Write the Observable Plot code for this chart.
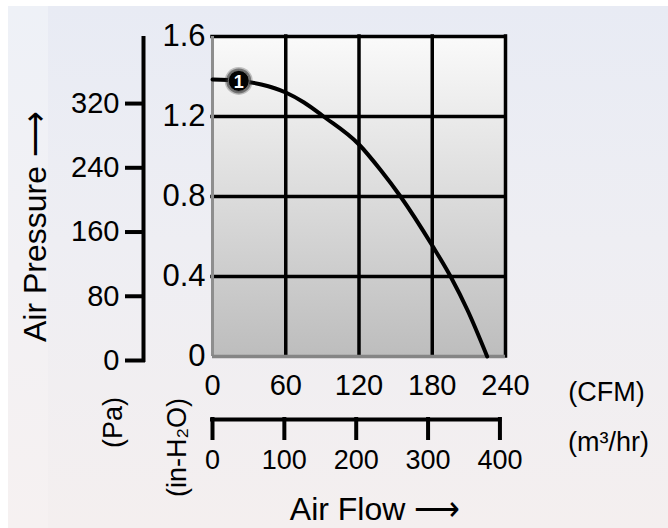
<!DOCTYPE html>
<html>
<head>
<meta charset="utf-8">
<script src="https://cdn.jsdelivr.net/npm/d3@7"></script>
<script src="https://cdn.jsdelivr.net/npm/@observablehq/plot@0.6"></script>
<style>
  html, body { margin: 0; padding: 0; background: #ffffff; }
  #wrap { position: relative; width: 668px; height: 528px; overflow: hidden; }
  #bg { position: absolute; left: 8px; top: 6px; right: 0; bottom: 0;
        background: linear-gradient(180deg, #e8ebf4 0%, #eeeef3 45%, #f4efef 100%); }
  #strip { position: absolute; left: 8px; top: 6px; width: 40px; bottom: 0;
        background: linear-gradient(180deg, #eef1f7 0%, #f2f1f4 50%, #f6f1f1 100%); }
  #chart { position: absolute; left: 0; top: 0; }
</style>
</head>
<body>
<div id="wrap"><div id="bg"></div><div id="strip"></div><div id="chart"></div></div>
<script>
// ---- data ----
const flowCFM       = [0, 22, 40, 60, 75, 91, 120, 138, 154, 180, 195, 209, 225];
const pressureInH2O = [1.385, 1.378, 1.36, 1.32, 1.27, 1.20, 1.06, 0.93, 0.80, 0.555, 0.40, 0.23, 0];
const cfmTicks      = [0, 60, 120, 180, 240];
const m3hTicks      = [0, 100, 200, 300, 400];
const inH2OTicks    = [0, 0.4, 0.8, 1.2, 1.6];
const paTicks       = [0, 80, 160, 240, 320];
const markerLabels  = ["1"];
const markerFlow    = [21.5];
const markerPress   = [1.378];

// unit conversions
const M3H_PER_CFM = 1.699;
const PA_PER_INH2O = 249.09;

const curve = flowCFM.map((f, i) => ({flow: f, pressure: pressureInH2O[i]}));
const markers = markerLabels.map((l, i) => ({label: l, flow: markerFlow[i], pressure: markerPress[i]}));

// ---- layout (pixels) ----
const W = 668, H = 528;
const mL = 212, mR = 163, mT = 36, mB = 172;
const frameW = W - mL - mR, frameH = H - mT - mB;
const paAxisOffset = -69;      // Pa axis line left of the frame
const flowAxisOffset = 63;     // m3/hr axis line below the frame
const FONT = "'Liberation Sans', Arial, Helvetica, sans-serif";
const C = {textAnchor: "middle", lineAnchor: "middle", fill: "#000"};

const plot = Plot.plot({
  width: W, height: H,
  marginLeft: mL, marginRight: mR, marginTop: mT, marginBottom: mB,
  x: {domain: [0, 240], axis: null},
  y: {domain: [0, 1.6], axis: null},
  style: {background: "transparent", fontFamily: FONT, color: "#111", overflow: "visible"},
  marks: [
    Plot.frame({fill: "url(#plotbg)", stroke: "none"}),
    // grid
    Plot.ruleX(cfmTicks.filter(d => d > 0), {stroke: "#000", strokeWidth: 3.5, strokeLinecap: "square"}),
    Plot.ruleY(inH2OTicks.filter(d => d > 0), {stroke: "#000", strokeWidth: 3.5, strokeLinecap: "square"}),
    Plot.ruleX([0], {stroke: "#8e8e8e", strokeWidth: 3}),
    Plot.ruleY([0], {stroke: "#858585", strokeWidth: 3.5}),
    // P-Q curve
    Plot.line(curve, {x: "flow", y: "pressure", curve: "monotone-x", stroke: "#000", strokeWidth: 4, strokeLinecap: "round"}),
    // curve marker (dark halo + black disc)
    Plot.dot(markers, {x: "flow", y: "pressure", r: 14, fill: "#222", fillOpacity: 0.25}),
    Plot.dot(markers, {x: "flow", y: "pressure", r: 12.5, fill: "#333", fillOpacity: 0.55}),
    Plot.dot(markers, {x: "flow", y: "pressure", r: 10.5, fill: "#030303", stroke: "#6e6e6e", strokeWidth: 1}),
    Plot.text(markers, {x: "flow", y: "pressure", text: "label", ...C, fill: "#fff", fontWeight: "bold", fontSize: 18, dy: 1}),
    // in-H2O labels
    Plot.text(inH2OTicks, {y: d => d, text: d => String(d), frameAnchor: "left", ...C, textAnchor: "end", dx: -7, fontSize: 31}),
    // Pa axis
    Plot.ruleX([0], {dx: paAxisOffset, insetBottom: -6, stroke: "#000", strokeWidth: 4}),
    Plot.ruleY(paTicks, {y: d => d / PA_PER_INH2O, dy: 4, insetLeft: -87, insetRight: frameW - paAxisOffset - 2, stroke: "#000", strokeWidth: 4}),
    Plot.text(paTicks, {y: d => d / PA_PER_INH2O, dy: 4, text: d => String(d), frameAnchor: "left", ...C, textAnchor: "end", dx: -93, fontSize: 29}),
    // CFM labels
    Plot.text(cfmTicks, {x: d => d, text: d => String(d), frameAnchor: "bottom", ...C, dy: 29, fontSize: 29}),
    // m3/hr axis
    Plot.ruleY([0], {x1: 0, x2: m3hTicks[m3hTicks.length - 1] / M3H_PER_CFM, dy: flowAxisOffset, stroke: "#000", strokeWidth: 4, strokeLinecap: "square"}),
    Plot.ruleX(m3hTicks, {x: d => d / M3H_PER_CFM, insetTop: frameH + flowAxisOffset - 2, insetBottom: -(flowAxisOffset + 21), stroke: "#000", strokeWidth: 4}),
    Plot.text(m3hTicks, {x: d => d / M3H_PER_CFM, text: d => String(d), frameAnchor: "bottom", ...C, dy: 104, fontSize: 27}),
    // unit labels
    Plot.text(["(CFM)"], {frameAnchor: "bottom-right", ...C, dx: 101, dy: 36, fontSize: 27}),
    Plot.text(["(m³/hr)"], {frameAnchor: "bottom-right", ...C, dx: 103, dy: 86, fontSize: 27}),
    Plot.text(["Air Flow ⟶"], {frameAnchor: "bottom", ...C, dx: 16, dy: 153, fontSize: 32}),
    Plot.text(["Air Pressure ⟶"], {frameAnchor: "left", ...C, rotate: -90, dx: -177, dy: 30, fontSize: 32}),
    Plot.text(["(Pa)"], {frameAnchor: "bottom-left", ...C, rotate: -90, dx: -99, dy: 66, fontSize: 27}),
    Plot.text(["(in-H₂O)"], {frameAnchor: "bottom-left", ...C, rotate: -90, dx: -35, dy: 91, fontSize: 27})
  ]
});

const defs = d3.select(plot).insert("defs", ":first-child");
const g = defs.append("linearGradient").attr("id", "plotbg").attr("x1", 0).attr("y1", 0).attr("x2", 0).attr("y2", 1);
g.append("stop").attr("offset", "0%").attr("stop-color", "#fafafa");
g.append("stop").attr("offset", "100%").attr("stop-color", "#bdbdbd");

document.getElementById("chart").appendChild(plot);
</script>
</body>
</html>
